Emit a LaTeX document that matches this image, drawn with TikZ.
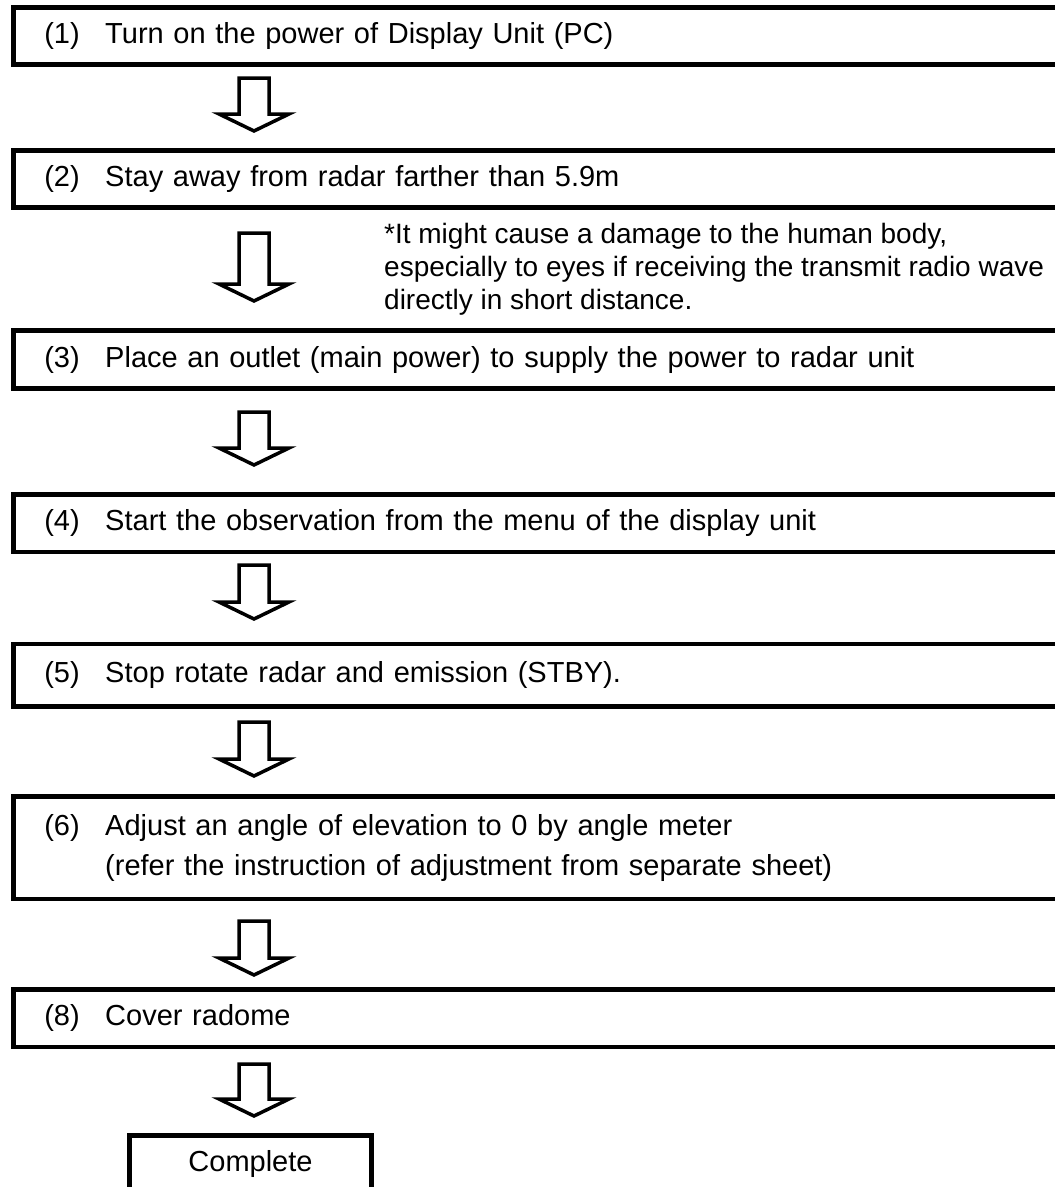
\documentclass[tikz,border=0pt]{standalone}
\usepackage{fontspec}
\setmainfont{Liberation Sans}
\usepackage{tikz}
\usetikzlibrary{positioning}

\newcommand{\downblock}[2]{%
  \draw[blk] (239,#1) -- (269,#1) -- (269,{#2-17}) -- (289,{#2-17})
    -- (254,#2) -- (219,{#2-17}) -- (239,{#2-17}) -- cycle;}
\newcommand{\stepno}[1]{\makebox[61pt][l]{(#1)}}

\begin{document}
\begin{tikzpicture}[
      x=1pt, y=-1pt,
      stepbox/.style={draw, line width=4.5pt, anchor=west, inner xsep=31pt, inner ysep=0pt,
        text width=1008pt, align=left, font=\fontsize{29}{40}\selectfont},
      blk/.style={draw, line width=3.5pt, fill=white},
      note/.style={anchor=west, inner sep=0pt, align=left, font=\fontsize{28}{33}\selectfont},
      endbox/.style={draw, line width=4.5pt, minimum width=242pt, minimum height=57pt,
        inner sep=0pt, font=\fontsize{29}{33}\selectfont}
  ]
    \useasboundingbox (0,0) rectangle (1055,1187);
    \clip (0,0) rectangle (1055,1187);
    \node[stepbox, minimum height=57pt] (s1) at (11,36) {\stepno{1}Turn on the power of Display Unit (PC)};
    \node[stepbox, minimum height=57pt] (s2) at (11,179) {\stepno{2}Stay away from radar farther than 5.9m};
    \node[stepbox, minimum height=58pt] (s3) at (11,359.5) {\stepno{3}Place an outlet (main power) to supply the power to radar unit};
    \node[stepbox, minimum height=57.5pt] (s4) at (11,523.25) {\stepno{4}Start the observation from the menu of the display unit};
    \node[stepbox, minimum height=62.5pt] (s5) at (11,675.25) {\stepno{5}Stop rotate radar and emission (STBY).};
    \node[stepbox, minimum height=102.5pt] (s6) at (11,847.75) {\stepno{6}Adjust an angle of elevation to 0 by angle meter\\
      \hspace*{61pt}(refer the instruction of adjustment from separate sheet)};
    \node[stepbox, minimum height=57.5pt] (s8) at (11,1018.25) {\stepno{8}Cover radome};
    \node[endbox] (done) at (250.5,1164) {Complete};
    \node[note] (warn) at (384,269) {*It might cause a damage to the human body,\\
      especially to eyes if receiving the transmit radio wave\\
      directly in short distance.};
    \downblock{78}{131}
    \downblock{233}{301}
    \downblock{412}{465}
    \downblock{565}{619}
    \downblock{722}{776}
    \downblock{921}{975}
    \downblock{1064}{1116}
  \end{tikzpicture}
\end{document}
